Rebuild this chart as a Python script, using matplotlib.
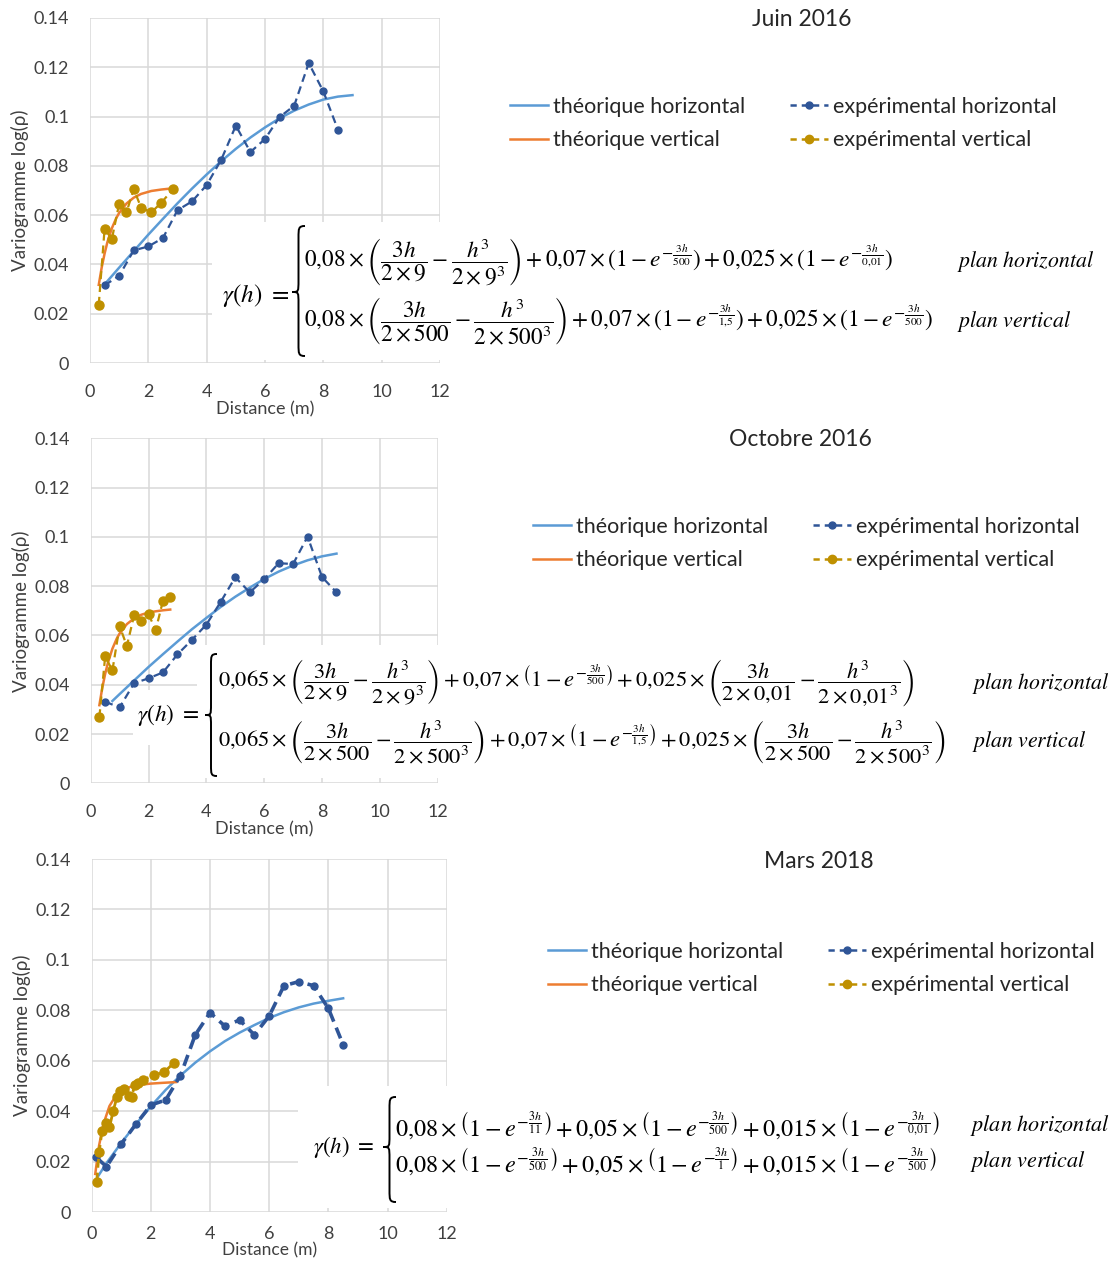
import numpy as np
import matplotlib.pyplot as plt
from matplotlib.patches import Rectangle, PathPatch
from matplotlib.path import Path
from matplotlib.lines import Line2D

W, H = 1116, 1261
plt.rcParams['font.family'] = ['Lato', 'DejaVu Sans']
plt.rcParams['mathtext.fontset'] = 'stix'

# axis ticks
x_ticks = [0, 2, 4, 6, 8, 10, 12]
y_ticks = [0, 0.02, 0.04, 0.06, 0.08, 0.1, 0.12, 0.14]
y_tick_labels = ['0', '0.02', '0.04', '0.06', '0.08', '0.1', '0.12', '0.14']

labels = ['théorique horizontal', 'théorique vertical',
          'expérimental horizontal', 'expérimental vertical']
titles = ['Juin 2016', 'Octobre 2016', 'Mars 2018']

# --- Juin 2016 ---
juin_th_h_x = [0.5, 1, 1.5, 2, 2.5, 3, 3.5, 4, 4.5, 5, 5.5, 6, 6.5, 7, 7.5, 8, 8.5, 9]
juin_th_h_y = [0.0319, 0.0387, 0.0454, 0.0521, 0.0585, 0.0648, 0.0708, 0.0765, 0.0819,
               0.0869, 0.0915, 0.0956, 0.0993, 0.1024, 0.1049, 0.1069, 0.1081, 0.1087]
juin_th_v_x = [0.3, 0.4, 0.5, 0.6, 0.75, 0.9, 1.0, 1.25, 1.5, 1.75, 2.1, 2.45, 2.85]
juin_th_v_y = [0.0317, 0.0387, 0.0444, 0.0492, 0.0547, 0.0588, 0.0609, 0.0647, 0.0671,
               0.0686, 0.0698, 0.0704, 0.0709]
juin_ex_h_x = [0.5, 1, 1.5, 2, 2.5, 3, 3.5, 4, 4.5, 5, 5.5, 6, 6.5, 7, 7.5, 8, 8.5]
juin_ex_h_y = [0.0315, 0.0354, 0.0457, 0.0473, 0.0507, 0.0620, 0.0656, 0.0722, 0.0825,
               0.0963, 0.0856, 0.0909, 0.0998, 0.1044, 0.1217, 0.1102, 0.0947]
juin_ex_v_x = [0.3, 0.5, 0.75, 1.0, 1.25, 1.5, 1.75, 2.1, 2.45, 2.85]
juin_ex_v_y = [0.0236, 0.0544, 0.0503, 0.0647, 0.0611, 0.0706, 0.0631, 0.0611, 0.0651, 0.0706]

# --- Octobre 2016 ---
oct_th_h_x = [0.75, 1, 1.5, 2, 2.5, 3, 3.5, 4, 4.5, 5, 5.5, 6, 6.5, 7, 7.5, 8, 8.5]
oct_th_h_y = [0.0334, 0.0362, 0.0417, 0.0472, 0.0524, 0.0575, 0.0625, 0.0671, 0.0716,
              0.0757, 0.0794, 0.0829, 0.0859, 0.0884, 0.0905, 0.0921, 0.0932]
oct_th_v_x = [0.3, 0.4, 0.5, 0.6, 0.75, 0.9, 1.0, 1.25, 1.5, 1.75, 2.0, 2.25, 2.5, 2.75]
oct_th_v_y = [0.0317, 0.0387, 0.0444, 0.0491, 0.0546, 0.0587, 0.0608, 0.0646, 0.0669,
              0.0684, 0.0693, 0.0698, 0.0702, 0.0705]
oct_ex_h_x = [0.5, 1, 1.5, 2, 2.5, 3, 3.5, 4, 4.5, 5, 5.5, 6, 6.5, 7, 7.5, 8, 8.5]
oct_ex_h_y = [0.0331, 0.0308, 0.0406, 0.0426, 0.0450, 0.0523, 0.0582, 0.0644, 0.0737,
              0.0836, 0.0775, 0.0828, 0.0893, 0.0890, 0.1001, 0.0837, 0.0775]
oct_ex_v_x = [0.3, 0.5, 0.75, 1.0, 1.25, 1.5, 1.75, 2.0, 2.25, 2.5, 2.75]
oct_ex_v_y = [0.0268, 0.0515, 0.0458, 0.0638, 0.0557, 0.0681, 0.0658, 0.0685, 0.0623, 0.0741, 0.0755]

# --- Mars 2018 ---
mars_th_h_x = [0.2, 0.5, 1, 1.5, 2, 2.5, 3, 3.5, 4, 4.5, 5, 5.5, 6, 6.5, 7, 7.5, 8, 8.5]
mars_th_h_y = [0.0140, 0.0195, 0.0275, 0.0350, 0.0420, 0.0485, 0.0542, 0.0593, 0.0638,
               0.0678, 0.0712, 0.0742, 0.0770, 0.0793, 0.0812, 0.0827, 0.0838, 0.0848]
mars_th_v_x = [0.12, 0.25, 0.4, 0.6, 0.8, 1.0, 1.3, 1.6, 2.0, 2.4, 2.85]
mars_th_v_y = [0.0152, 0.0265, 0.0351, 0.0421, 0.0459, 0.0481, 0.0497, 0.0505, 0.0510, 0.0513, 0.0516]
mars_ex_h_x = [0.15, 0.5, 1, 1.5, 2, 2.5, 3, 3.5, 4, 4.5, 5, 5.5, 6, 6.5, 7, 7.5, 8, 8.5]
mars_ex_h_y = [0.0218, 0.0181, 0.0271, 0.0350, 0.0425, 0.0445, 0.0542, 0.0703, 0.0791,
               0.0738, 0.0762, 0.0703, 0.0778, 0.0898, 0.0914, 0.0898, 0.0808, 0.0664]
mars_ex_v_x = [0.17, 0.25, 0.35, 0.47, 0.6, 0.73, 0.85, 0.96, 1.09, 1.27, 1.35, 1.45, 1.55,
               1.75, 2.12, 2.45, 2.79]
mars_ex_v_y = [0.0122, 0.0238, 0.0323, 0.0355, 0.0337, 0.0403, 0.0455, 0.0482, 0.0490,
               0.0460, 0.0458, 0.0503, 0.0511, 0.0526, 0.0543, 0.0556, 0.0593]

# equations (as shown next to each chart)
eq_juin = [r'$0{,}08\times\left(\dfrac{3h}{2\times9}-\dfrac{h^3}{2\times9^3}\right)+0{,}07\times\left(1-e^{-\frac{3h}{500}}\right)+0{,}025\times\left(1-e^{-\frac{3h}{0{,}01}}\right)$',
           r'$0{,}08\times\left(\dfrac{3h}{2\times500}-\dfrac{h^3}{2\times500^3}\right)+0{,}07\times\left(1-e^{-\frac{3h}{1{,}5}}\right)+0{,}025\times\left(1-e^{-\frac{3h}{500}}\right)$']
eq_oct = [r'$0{,}065\times\left(\dfrac{3h}{2\times9}-\dfrac{h^3}{2\times9^3}\right)+0{,}07\times\left(1-e^{-\frac{3h}{500}}\right)+0{,}025\times\left(\dfrac{3h}{2\times0{,}01}-\dfrac{h^3}{2\times0{,}01^3}\right)$',
          r'$0{,}065\times\left(\dfrac{3h}{2\times500}-\dfrac{h^3}{2\times500^3}\right)+0{,}07\times\left(1-e^{-\frac{3h}{1{,}5}}\right)+0{,}025\times\left(\dfrac{3h}{2\times500}-\dfrac{h^3}{2\times500^3}\right)$']
eq_mars = [r'$0{,}08\times\left(1-e^{-\frac{3h}{11}}\right)+0{,}05\times\left(1-e^{-\frac{3h}{500}}\right)+0{,}015\times\left(1-e^{-\frac{3h}{0{,}01}}\right)$',
           r'$0{,}08\times\left(1-e^{-\frac{3h}{500}}\right)+0{,}05\times\left(1-e^{-\frac{3h}{1}}\right)+0{,}015\times\left(1-e^{-\frac{3h}{500}}\right)$']
plan_labels = [r'$\mathit{plan\ horizontal}$', r'$\mathit{plan\ vertical}$']

C_TH_H = '#5B9BD5'
C_TH_V = '#ED7D31'
C_EX_H = '#2F5597'
C_EX_V = '#BF9000'
C_TXT = '#262626'
C_TICK = '#404040'


def fx(x):
    return x / W


def fy(y):
    return 1 - y / H


fig = plt.figure(figsize=(W / 100, H / 100), dpi=100)
fig.patch.set_facecolor('white')
renderer = fig.canvas.get_renderer()


def fit_text(x, y, s, target_w, fs=14, **kw):
    t = fig.text(fx(x), fy(y), s, fontsize=fs, ha='left', va='center', color='black', zorder=5, **kw)
    w = t.get_window_extent(renderer).width
    t.set_fontsize(fs * target_w / w)
    return t


def brace(x0, x1, y_top, y_mid, y_bot):
    xm = (x0 + x1) / 2
    k = (x1 - x0) * 0.9
    pts = [(x1, y_top), (xm, y_top), (xm, y_top + k * 0.2), (xm, y_top + k),
           (xm, y_mid - k), (xm, y_mid), (xm, y_mid), (x0, y_mid),
           (xm, y_mid), (xm, y_mid), (xm, y_mid + k),
           (xm, y_bot - k), (xm, y_bot - k * 0.2), (xm, y_bot), (x1, y_bot)]
    codes = [Path.MOVETO, Path.CURVE4, Path.CURVE4, Path.CURVE4,
             Path.LINETO, Path.CURVE4, Path.CURVE4, Path.CURVE4,
             Path.CURVE4, Path.CURVE4, Path.CURVE4,
             Path.LINETO, Path.CURVE4, Path.CURVE4, Path.CURVE4]
    verts = [(fx(px), fy(py)) for px, py in pts]
    fig.add_artist(PathPatch(Path(verts, codes), transform=fig.transFigure,
                             facecolor='none', edgecolor='black', lw=1.4, zorder=5))


def white_box(x0, y0, x1, y1):
    fig.add_artist(Rectangle((fx(x0), fy(y1)), (x1 - x0) / W, (y1 - y0) / H,
                             transform=fig.transFigure, facecolor='white',
                             edgecolor='none', zorder=4))


def draw_panel(box, th_h, th_v, ex_h, ex_v, title, title_xy, leg_xy, heavy=False,
               xtick_pad=15, xpad=1, xfs=13):
    x0, y0, x1, y1 = box
    ax = fig.add_axes([fx(x0), fy(y1), (x1 - x0) / W, (y1 - y0) / H])
    ax.plot(th_h[0], th_h[1], color=C_TH_H, lw=1.8, zorder=3)
    ax.plot(th_v[0], th_v[1], color=C_TH_V, lw=1.8, zorder=3)
    if heavy:
        ax.plot(ex_h[0], ex_h[1], color=C_EX_H, lw=2.6, dashes=(3.2, 1.8),
                marker='o', ms=5, zorder=4)
        ax.plot(ex_v[0], ex_v[1], color=C_EX_V, lw=2.0, dashes=(3.2, 1.8),
                marker='o', ms=6.5, zorder=4)
    else:
        ax.plot(ex_h[0], ex_h[1], color=C_EX_H, lw=1.6, dashes=(3.6, 2.2),
                marker='o', ms=5, zorder=4)
        ax.plot(ex_v[0], ex_v[1], color=C_EX_V, lw=1.6, dashes=(3.6, 2.2),
                marker='o', ms=6.5, zorder=4)
    ax.set_xlim(0, 12)
    ax.set_ylim(0, 0.14)
    ax.set_xticks(x_ticks)
    ax.set_yticks(y_ticks)
    ax.set_yticklabels(y_tick_labels)
    ax.tick_params(length=0, labelsize=13, colors=C_TICK, pad=15)
    ax.tick_params(axis='x', pad=xtick_pad)
    for s in ax.spines.values():
        s.set_visible(False)
    ax.grid(True, color='#D9D9D9', lw=1.1)
    ax.set_axisbelow(True)
    ax.set_ylabel('Variogramme log(ρ)', fontsize=13.5, color=C_TICK, labelpad=3)
    ax.set_xlabel('Distance (m)', fontsize=xfs, color=C_TICK, labelpad=xpad)

    fig.text(fx(title_xy[0]), fy(title_xy[1]), title, fontsize=16.5, color=C_TXT,
             ha='center', va='center')
    handles = [Line2D([], [], color=C_TH_H, lw=1.8),
               Line2D([], [], color=C_TH_V, lw=1.8),
               Line2D([], [], color=C_EX_H, lw=1.8, dashes=(2.5, 2.0), marker='o', ms=5),
               Line2D([], [], color=C_EX_V, lw=1.8, dashes=(2.5, 2.0), marker='o', ms=6)]
    fig.legend(handles, labels, loc='upper left', bbox_to_anchor=(fx(leg_xy[0]), fy(leg_xy[1])),
               ncol=2, frameon=False, fontsize=15.5, handlelength=1.75, handletextpad=0.25,
               columnspacing=2.1, labelspacing=0.62, borderpad=0, borderaxespad=0,
               labelcolor=C_TXT)
    return ax


draw_panel((90, 18, 440, 363), (juin_th_h_x, juin_th_h_y), (juin_th_v_x, juin_th_v_y),
           (juin_ex_h_x, juin_ex_h_y), (juin_ex_v_x, juin_ex_v_y),
           titles[0], (802, 20), (510, 97))
draw_panel((90.7, 438.3, 437.7, 783.3), (oct_th_h_x, oct_th_h_y), (oct_th_v_x, oct_th_v_y),
           (oct_ex_h_x, oct_ex_h_y), (oct_ex_v_x, oct_ex_v_y),
           titles[1], (800, 440), (533, 517))
draw_panel((91.7, 859, 446.7, 1212.3), (mars_th_h_x, mars_th_h_y), (mars_th_v_x, mars_th_v_y),
           (mars_ex_h_x, mars_ex_h_y), (mars_ex_v_x, mars_ex_v_y),
           titles[2], (819, 862), (548, 942), heavy=True, xtick_pad=10, xpad=0, xfs=12.5)


# equation blocks
def equation(boxes, gamma_xy, gamma_w, brace_x, brace_y, rows, row_x, row_y, row_w,
             plan_x, plan_w):
    for b in boxes:
        white_box(*b)
    fit_text(gamma_xy[0], gamma_xy[1], r'$\gamma(h)\ =$', gamma_w)
    brace(brace_x[0], brace_x[1], *brace_y)
    t1 = fit_text(row_x, row_y[0], rows[0], row_w)
    fig.text(fx(row_x), fy(row_y[1]), rows[1], fontsize=t1.get_fontsize(),
             ha='left', va='center', color='black', zorder=5)
    p1 = fit_text(plan_x, row_y[0], plan_labels[0], plan_w)
    fig.text(fx(plan_x), fy(row_y[1]), plan_labels[1], fontsize=p1.get_fontsize(),
             ha='left', va='center', color='black', zorder=5)


equation([(212, 222, 1114, 360)], (222, 295), 68, (292, 305), (226, 292, 356),
         eq_juin, 304, (262, 321), 594, 957, 138)
equation([(197, 645, 962, 778), (133, 690, 200, 745)], (137, 715), 63, (205, 217),
         (654, 715, 776), eq_oct, 218, (683, 742), 700, 972, 138)
equation([(298, 1086, 1114, 1208)], (313, 1147), 62, (383, 396), (1097, 1147, 1202),
         eq_mars, 395, (1125, 1161), 547, 970, 140)

plt.savefig('out.png', dpi=100)
